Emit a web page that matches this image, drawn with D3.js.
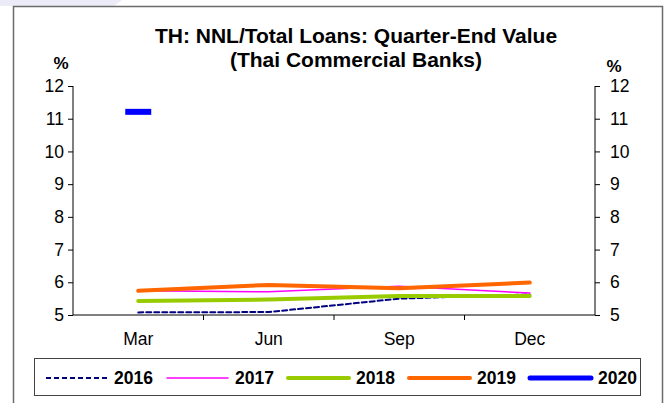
<!DOCTYPE html>
<html>
<head>
<meta charset="utf-8">
<script src="https://cdn.jsdelivr.net/npm/d3@7"></script>
<style>
  html, body { margin: 0; padding: 0; background: #fff; }
  svg { display: block; font-family: Arial, "Liberation Sans", sans-serif; }
</style>
</head>
<body>
<svg id="chart" width="669" height="403"></svg>
<script>
// Quarter-end NPL ratio of Thai commercial banks, % of total loans
const quarters = ["Mar", "Jun", "Sep", "Dec"];
const years = ["2016", "2017", "2018", "2019", "2020"];
const v2016 = [5.08, 5.09, 5.50, 5.63];
const v2017 = [5.74, 5.71, 5.88, 5.67];
const v2018 = [5.43, 5.47, 5.58, 5.58];
const v2019 = [5.74, 5.92, 5.82, 5.99];
const v2020 = [11.21, null, null, null];
const yTicks = [5, 6, 7, 8, 9, 10, 11, 12];

const seriesStyle = [
  { color: "#000080", width: 2,   dash: "5,3" },
  { color: "#FF00FF", width: 1.5, dash: null },
  { color: "#99CC00", width: 4,   dash: null },
  { color: "#FF6600", width: 4,   dash: null },
  { color: "#0000FF", width: 6,   dash: null }
];
const seriesValues = [v2016, v2017, v2018, v2019, v2020];

const svg = d3.select("#chart");

// faint band along the top-left edge
svg.append("polygon")
  .attr("points", "0,0 122,0 114,6 0,6")
  .attr("fill", "#ececf8");

// outer frame
svg.append("rect")
  .attr("x", 13.5).attr("y", 6.5)
  .attr("width", 649).attr("height", 420)
  .attr("fill", "none").attr("stroke", "#6b6b6b").attr("stroke-width", 1.5);

const plot = { left: 73, right: 595, top: 86, bottom: 315 };

const x = d3.scaleBand().domain(quarters).range([plot.left, plot.right]);
const y = d3.scaleLinear().domain([5, 12]).range([plot.bottom, plot.top]);

// title
const title = svg.append("text")
  .attr("text-anchor", "middle")
  .attr("font-weight", "bold").attr("font-size", 21).attr("fill", "#000");
title.append("tspan").attr("x", 356).attr("y", 43).text("TH: NNL/Total Loans: Quarter-End Value");
title.append("tspan").attr("x", 356).attr("y", 67).text("(Thai Commercial Banks)");

// unit labels
svg.append("text").attr("x", 61).attr("y", 69).attr("text-anchor", "middle")
  .attr("font-weight", "bold").attr("font-size", 17).text("%");
svg.append("text").attr("x", 614).attr("y", 72).attr("text-anchor", "middle")
  .attr("font-weight", "bold").attr("font-size", 17).text("%");

// y axes on both sides
const fmt = d3.format("d");
const leftAxis = d3.axisLeft(y).tickValues(yTicks).tickFormat(fmt).tickSize(5).tickPadding(4);
const rightAxis = d3.axisRight(y).tickValues(yTicks).tickFormat(fmt).tickSize(5).tickPadding(10);

function styleAxis(g) {
  g.select(".domain").attr("stroke", "#000").attr("stroke-width", 1);
  g.selectAll(".tick line").attr("stroke", "#000");
  g.selectAll(".tick text").attr("font-size", 17.5).attr("fill", "#000")
    .attr("font-family", "Arial, 'Liberation Sans', sans-serif");
}

svg.append("g").attr("transform", `translate(${plot.left},0)`)
  .call(leftAxis).call(g => g.select(".domain").attr("d", `M-0,${plot.top}V${plot.bottom}`)).call(styleAxis);
svg.append("g").attr("transform", `translate(${plot.right},0)`)
  .call(rightAxis).call(g => g.select(".domain").attr("d", `M0,${plot.top}V${plot.bottom}`)).call(styleAxis);

// category axis: line, boundary ticks and centred labels
const xg = svg.append("g");
xg.append("line")
  .attr("x1", plot.left).attr("x2", plot.right)
  .attr("y1", plot.bottom).attr("y2", plot.bottom)
  .attr("stroke", "#000");
xg.selectAll("line.qtick")
  .data(quarters.slice(1))
  .join("line").attr("class", "qtick")
  .attr("x1", d => x(d)).attr("x2", d => x(d))
  .attr("y1", plot.bottom).attr("y2", plot.bottom + 5)
  .attr("stroke", "#000");
xg.selectAll("text")
  .data(quarters)
  .join("text")
  .attr("x", d => x(d) + x.bandwidth() / 2)
  .attr("y", plot.bottom + 30)
  .attr("text-anchor", "middle")
  .attr("font-size", 17.5)
  .text(d => d);

// series lines
const cx = q => x(q) + x.bandwidth() / 2;
const line = d3.line()
  .defined(d => d.v != null)
  .x(d => cx(d.q))
  .y(d => y(d.v));

seriesValues.forEach((vals, i) => {
  const st = seriesStyle[i];
  const pts = vals.map((v, k) => ({ q: quarters[k], v }));
  const valid = pts.filter(d => d.v != null);
  if (valid.length > 1) {
    svg.append("path")
      .datum(pts)
      .attr("d", line)
      .attr("fill", "none")
      .attr("stroke", st.color)
      .attr("stroke-width", st.width)
      .attr("stroke-linejoin", "round")
      .attr("stroke-linecap", "round")
      .attr("stroke-dasharray", st.dash);
  } else {
    // a lone quarter is shown as a short dash marker
    svg.selectAll(null)
      .data(valid)
      .join("line")
      .attr("x1", d => cx(d.q) - 13).attr("x2", d => cx(d.q) + 13)
      .attr("y1", d => y(d.v)).attr("y2", d => y(d.v))
      .attr("stroke", st.color)
      .attr("stroke-width", st.width);
  }
});

// legend
const legend = svg.append("g");
legend.append("rect")
  .attr("x", 34.5).attr("y", 358.5)
  .attr("width", 606).attr("height", 37)
  .attr("fill", "#fff").attr("stroke", "#444").attr("stroke-width", 1);

years.forEach((yr, i) => {
  const st = seriesStyle[i];
  const x0 = 46 + i * 121;
  legend.append("line")
    .attr("x1", x0).attr("x2", x0 + 61)
    .attr("y1", 378).attr("y2", 378)
    .attr("stroke", st.color)
    .attr("stroke-width", Math.min(st.width, 5))
    .attr("stroke-linecap", st.dash ? "butt" : "round")
    .attr("stroke-dasharray", st.dash);
  legend.append("text")
    .attr("x", x0 + 68).attr("y", 384)
    .attr("font-weight", "bold").attr("font-size", 17.5)
    .text(yr);
});
</script>
</body>
</html>
